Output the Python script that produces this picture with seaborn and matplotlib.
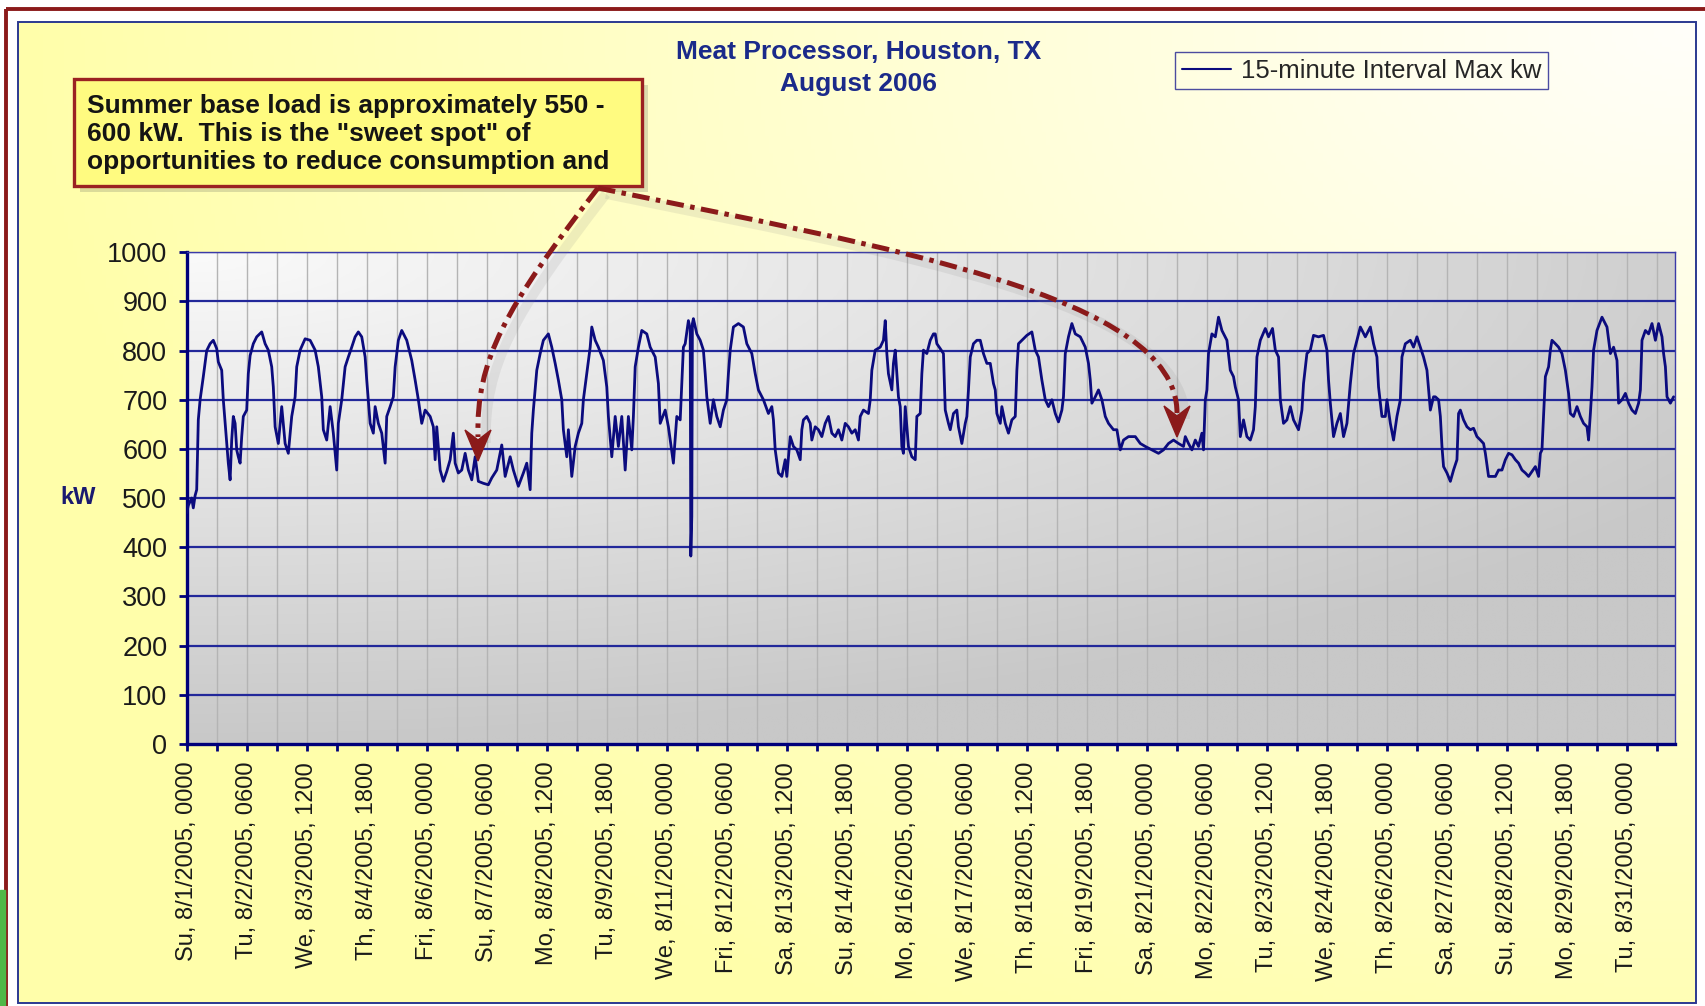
import numpy as np
import matplotlib
matplotlib.use("Agg")
import matplotlib.pyplot as plt
from matplotlib.patches import Rectangle, PathPatch, Polygon
from matplotlib.path import Path
from matplotlib.lines import Line2D
import seaborn as sns

# Canvas size (pixels)
W, H = 1705, 1006

# Text
TITLE = ["Meat Processor, Houston, TX", "August 2006"]
NOTE = ["Summer base load is approximately 550 -",
        "600 kW.  This is the \"sweet spot\" of",
        "opportunities to reduce consumption and"]
SERIES_NAME = "15-minute Interval Max kw"
Y_LABEL = "kW"

# Category labels, one every 30 hours, starting at 8/1 0000
X_LABELS = ["Su, 8/1/2005, 0000", "Tu, 8/2/2005, 0600", "We, 8/3/2005, 1200",
            "Th, 8/4/2005, 1800", "Fri, 8/6/2005, 0000", "Su, 8/7/2005, 0600",
            "Mo, 8/8/2005, 1200", "Tu, 8/9/2005, 1800", "We, 8/11/2005, 0000",
            "Fri, 8/12/2005, 0600", "Sa, 8/13/2005, 1200", "Su, 8/14/2005, 1800",
            "Mo, 8/16/2005, 0000", "We, 8/17/2005, 0600", "Th, 8/18/2005, 1200",
            "Fri, 8/19/2005, 1800", "Sa, 8/21/2005, 0000", "Mo, 8/22/2005, 0600",
            "Tu, 8/23/2005, 1200", "We, 8/24/2005, 1800", "Th, 8/26/2005, 0000",
            "Sa, 8/27/2005, 0600", "Su, 8/28/2005, 1200", "Mo, 8/29/2005, 1800",
            "Tu, 8/31/2005, 0000"]
LABEL_STEP_H = 30
TOTAL_H = 744
Y_TICKS = list(range(0, 1001, 100))

# Load trace: hours since 8/1 0000, kW
HOURS = [0, 0.8, 2.5, 3.3, 4.2, 5, 5.8, 6.7, 8.3, 10, 11.7, 13.3, 15, 15.8, 17.5, 18.3, 20, 20.8,
         21.7, 22.5, 23.3, 24.2, 25, 25.8, 26.7, 27.5, 28.3, 30, 30.8, 31.7, 33.3, 35, 37.5, 39.2,
         40.8, 42.5, 43.3, 44.2, 45.8, 47.5, 49.2, 50.8, 52.5, 54.2, 55, 56.7, 59.2, 61.7, 64.2,
         65.8, 67.5, 68.3, 70, 71.7, 73.3, 75, 75.8, 77.5, 79.2, 80.8, 82.5, 84.2, 85.8, 87.5,
         89.2, 90, 91.7, 93.3, 94.2, 95.8, 97.5, 99.2, 100, 101.7, 103.3, 104.2, 105.8, 107.5,
         110, 112.5, 114.2, 115.8, 117.5, 119.2, 121.7, 123.3, 124.2,
         125, 126.7, 128.3, 130, 131.7, 133.3, 134.2, 135.8, 137.5, 139.2, 140.8, 142.5, 144.2,
         145.8, 148.3, 150.8, 152.5, 155, 157.5, 159.2, 161.7, 163.3, 165.8, 168.3, 170, 171.7,
         172.5, 173.3, 175, 176.7, 178.3, 180.8, 182.5, 184.2, 185.8, 187.5, 188.3, 190, 190.8,
         192.5, 194.2, 195.8, 197.5, 198.3, 200, 201.7, 202.5, 204.2, 205.8, 208.3, 210, 210.8,
         212.5, 214.2, 215.8, 217.5, 219.2, 220.8, 222.5, 223.3, 224.2, 225.8, 227.5, 230, 231.7,
         234.2, 235.8, 236.7, 239.2, 240.8, 243.3, 245, 246.7, 247.5, 248.3, 249.2,
         250.8, 251.7, 252, 252.5, 252.8, 253.3, 255, 256.7, 258.3, 259.2, 260, 261.7, 263.3, 265,
         266.7, 268.3, 270, 270.8, 271.7, 273.3, 275.8, 278.3, 280, 282.5, 284.2, 285.8, 288.3,
         290.8, 292.5, 293.3, 294.2, 295.8, 297.5, 299.2, 300, 301.7, 303.3, 305, 306.7, 307.5,
         308.3, 310, 311.7, 312.5, 314.2, 315.8, 317.5, 319.2, 320.8, 322.5, 324.2, 325.8, 327.5,
         329.2, 330.8, 332.5, 334.2, 335.8, 336.7, 338.3, 340.8, 341.7, 342.5, 344.2, 346.7, 348.3,
         349.2, 350, 350.8, 352.5, 353.3, 354.2, 355.8, 356.7, 357.5, 358.3, 359.2, 360.8, 362.5,
         364.2, 365, 366.7, 367.5, 368.3, 370, 371.7, 373.3,
         374.2, 375, 376.7, 378.3, 379.2, 380.8, 381.7, 383.3, 385, 385.8, 387.5, 389.2, 390, 390.8,
         391.7, 393.3, 395, 396.7, 398.3, 400, 401.7, 403.3, 404.2, 405, 406.7, 407.5, 409.2, 410.8,
         412.5, 414.2, 415, 415.8, 417.5, 420, 422.5, 424.2, 425.8, 427.5, 429.2, 430.8, 432.5,
         434.2, 435.8, 437.5, 438.3, 439.2, 440.8, 442.5, 444.2, 446.7, 449.2, 450.8, 451.7, 452.5,
         454.2, 455.8, 457.5, 459.2, 460.8, 463.3, 465, 466.7, 468.3, 470.8, 474.2, 476.7, 479.2,
         482.5, 485.8, 488.3, 490.8, 493.3, 495.8, 498.3,
         499.2, 500.8, 502.5, 504.2, 505.8, 507.5, 508.3, 509.2, 510, 510.8, 512.5, 514.2, 515.8,
         517.5, 520, 521.7, 523.3, 524.2, 525.8, 526.7, 528.3, 530, 531.7, 533.3, 534.2, 535, 536.7,
         539.2, 540.8, 542.8, 544.2, 545.8, 546.7, 548.3, 550, 551.7, 553.3, 555.8, 557.5, 558.3,
         560, 561.7, 563.3, 565.8, 568.3, 570, 570.8, 571.7, 573.3, 575, 576.7, 578.3, 580, 581.7,
         583.3, 585, 586.7, 589.2, 591.7, 593.3, 595, 595.8, 597.5, 599.2, 600, 601.7, 603.3, 605,
         606.7, 607.5, 609.2, 611.7, 613.3, 615, 616.7, 618.3, 620, 621.7, 623.3,
         624.2, 625.8, 626.7, 627.5, 628.3, 630, 631.7, 633.3, 635, 635.8, 636.7, 638.3, 640, 641.7,
         643.3, 645, 646.7, 648.3, 649.2, 650.8, 652.5, 654.2, 655.8, 657.5, 659.2, 660.8, 662.5,
         664.2, 665.8, 667.5, 669.2, 670.8, 672.5, 674.2, 675.8, 676.7, 677.5, 678.3, 679.2, 680.8,
         681.7, 682.5, 684.2, 685.8, 687.5, 689.2, 690.8, 691.7, 693.3, 695, 696.7, 698.3, 700,
         700.8, 701.7, 702.5, 703.3, 705, 707.5, 710, 711.7, 713.3, 715, 715.8, 717.5, 719.2, 720.8,
         722.5, 724.2, 725.8, 726.7, 727.5, 729.2, 730.8, 732.5, 734.2, 735.8, 737.5, 738.3, 739.2,
         740, 741.7, 743.3]
KW = [470, 485, 500, 480, 505, 517, 659, 700, 747, 800, 814, 821, 804, 777, 760, 700, 611, 571,
      537, 618, 666, 652, 598, 584, 571, 625, 666, 679, 753, 790, 814, 828, 838, 814,
      801, 767, 726, 645, 611, 686, 611, 591, 666, 706, 767, 801, 824, 821, 801,
      767, 706, 639, 618, 686, 632, 557, 652, 700, 767, 787, 807, 828, 838, 828,
      787, 740, 652, 632, 686, 652, 632, 571, 666, 686, 706, 767, 821, 841,
      821, 780, 740, 700, 652, 679, 666, 645, 578,
      645, 557, 534, 554, 578, 632, 571, 551, 557, 591, 557, 537, 584,
      534, 530, 527, 541, 557, 608, 544, 584, 557, 524, 551, 571, 517,
      632, 679, 760, 794, 821, 834, 807, 774, 740, 700, 639, 584, 639,
      544, 605, 632, 652, 700, 753, 807, 848, 821, 807, 780, 726, 666,
      584, 666, 605, 666, 557, 666, 598, 666, 767, 807, 841, 834, 807,
      787, 733, 652, 679, 645, 571, 666, 659, 733, 807, 814,
      861, 845, 382, 463, 855, 865, 834, 821, 801, 753, 706, 652, 700, 666,
      645, 679, 700, 753, 801, 848, 855, 848, 814, 794, 753, 720, 700,
      672, 686, 659, 598, 551, 544, 578, 544, 625, 605, 598, 578, 639,
      659, 666, 652, 618, 645, 639, 625, 652, 666, 632, 625, 639, 618,
      652, 645, 632, 639, 618, 666, 679, 672, 700, 760, 801, 807, 821,
      861, 794, 753, 720, 774, 801, 706, 686, 605, 591, 686, 605, 584,
      578, 666, 672, 753, 801, 794, 821, 834,
      834, 814, 804, 794, 679, 652, 639, 672, 679, 645, 611, 652, 666, 720,
      787, 814, 821, 821, 794, 774, 774, 733, 720, 672, 652, 686, 652, 632,
      659, 666, 760, 814, 821, 831, 838, 801, 787, 740, 700, 686, 700,
      672, 655, 679, 706, 794, 828, 855, 834, 828, 807, 774, 740, 693,
      706, 720, 700, 666, 652, 639, 639, 598, 618, 625, 625, 611, 605,
      598, 591, 598, 611, 618, 611, 605,
      625, 611, 598, 618, 605, 632, 598, 700, 720, 794, 834, 828, 868,
      841, 821, 760, 747, 726, 700, 625, 659, 625, 618, 639, 686, 787, 821,
      845, 828, 845, 801, 787, 700, 652, 659, 686, 659, 639, 679, 733,
      794, 801, 831, 828, 831, 801, 740, 693, 625, 652, 672, 625, 652, 733,
      794, 821, 848, 828, 848, 814, 787, 726, 666, 666, 700, 652, 618, 666,
      700, 787, 814, 821, 807, 828, 807, 787, 760, 679, 706,
      706, 700, 666, 605, 564, 551, 534, 557, 578, 672, 679, 659, 645, 639,
      642, 625, 618, 611, 591, 544, 544, 544, 557, 557, 578, 591, 588,
      578, 571, 557, 551, 544, 554, 564, 544, 591, 598, 666, 747, 767,
      801, 821, 814, 807, 794, 760, 713, 672, 666, 686, 666, 652, 645,
      618, 672, 726, 801, 841, 868, 848, 794, 807, 780, 693, 700, 713, 693,
      679, 672, 693, 720, 821, 841, 834, 855, 821, 855, 828, 794, 767,
      706, 693, 706]

NAVY = "#0B0B7E"
GRID_BLUE = "#22289A"
DARK_RED = "#8B1A1A"
TITLE_BLUE = "#1B2A8A"

sns.set_theme(style="white")
plt.rcParams["font.family"] = ["Liberation Sans", "DejaVu Sans"]

fig = plt.figure(figsize=(W / 100, H / 100), dpi=100)
fig.patch.set_facecolor("white")

# --- page background (yellow gradient) ---
bg = fig.add_axes([0, 0, 1, 1], zorder=-10)
bg.set_axis_off()
bg.set_xlim(0, W)
bg.set_ylim(H, 0)
gx, gy = np.meshgrid(np.linspace(0, 1, 400), np.linspace(0, 1, 240))
d = np.clip(np.sqrt((1 - gx) ** 2 + (gy * 0.85) ** 2), 0, 1)
blue_ch = (250 - 80 * d) / 255
yellow = np.dstack([np.ones_like(d), np.full_like(d, 254 / 255), blue_ch])
bg.imshow(yellow, extent=(18, 1696, 1003, 22), aspect="auto", zorder=0)
bg.add_patch(Rectangle((18, 22), 1678, 981, fill=False, edgecolor="#2B3990", lw=1.4, zorder=2))
bg.plot([6, W], [9, 9], color=DARK_RED, lw=2.8, solid_capstyle="butt", zorder=2)
bg.plot([6, 6], [9, H], color=DARK_RED, lw=2.8, solid_capstyle="butt", zorder=2)
bg.add_patch(Rectangle((0, 890), 4.5, 116, color="#4FB848", zorder=2))

# --- plot area ---
left, right, top, bottom = 186.7, 1675, 252.3, 743.8
ax = fig.add_axes([left / W, 1 - bottom / H, (right - left) / W, (bottom - top) / H], zorder=0)
ax.set_facecolor("none")

u, v = np.meshgrid(np.linspace(0, 1, 300), np.linspace(0, 1, 200))
dist = np.clip(np.sqrt((u * 0.85) ** 2 + v ** 2), 0, 1)
shade = (250 - 50 * dist) / 255
# row 0 (lightest) at the top of the plot area
ax.imshow(np.dstack([shade, shade, shade]), extent=(0, TOTAL_H, 0, 1000), aspect="auto",
          origin="upper", zorder=-2)

ax.set_xlim(0, TOTAL_H)
ax.set_ylim(0, 1000)

major_x = np.arange(0, len(X_LABELS)) * LABEL_STEP_H
minor_x = np.append(major_x[:-1] + LABEL_STEP_H / 2, [735])
ax.set_xticks(major_x)
ax.set_xticklabels(X_LABELS, rotation=90)
ax.set_xticks(minor_x, minor=True)
ax.set_yticks(Y_TICKS)
ax.set_yticklabels([str(t) for t in Y_TICKS])

# vertical gray gridlines at every tick, horizontal navy gridlines
for xv in np.concatenate([major_x[1:], minor_x]):
    ax.axvline(xv, color="#B4B4B4", lw=1.0, zorder=-1)
for yv in Y_TICKS[1:]:
    ax.axhline(yv, color=GRID_BLUE, lw=1.6, zorder=1)

sns.lineplot(x=HOURS, y=KW, ax=ax, color=NAVY, lw=2.0, zorder=3, legend=False)

for side in ["left", "bottom"]:
    ax.spines[side].set_color("#00007A")
    ax.spines[side].set_linewidth(2.4)
for side in ["top", "right"]:
    ax.spines[side].set_color("#3A3AA8")
    ax.spines[side].set_linewidth(1.0)

ax.tick_params(axis="y", direction="out", length=6, width=2, color="#00007A",
               labelsize=19.5, pad=8, labelcolor="#1A1A1A", left=True)
ax.tick_params(axis="x", which="both", direction="out", length=5, width=2, color="#00007A",
               labelsize=17, pad=8, labelcolor="#1A1A1A", bottom=True)

# --- overlay for titles, callout and arrows (drawn above the plot) ---
ov = fig.add_axes([0, 0, 1, 1], zorder=5)
ov.set_axis_off()
ov.set_xlim(0, W)
ov.set_ylim(H, 0)
ov.patch.set_alpha(0)

ov.text(859, 52, TITLE[0], ha="center", va="center", fontsize=19,
        fontweight="bold", color=TITLE_BLUE)
ov.text(859, 84, TITLE[1], ha="center", va="center", fontsize=19,
        fontweight="bold", color=TITLE_BLUE)
ov.text(78, 497, Y_LABEL, ha="center", va="center", fontsize=17,
        fontweight="bold", color="#1A1A70")

handle = Line2D([], [], color=NAVY, lw=1.5)
fig.legend([handle], [SERIES_NAME], loc="center",
           bbox_to_anchor=(1361.5 / W, 1 - 70.5 / H), bbox_transform=fig.transFigure,
           frameon=True, fancybox=False, edgecolor="#1F1F8F", facecolor="none",
           fontsize=18.5, handlelength=1.9, handletextpad=0.4, borderpad=0.25,
           borderaxespad=0)

# callout box
ov.add_patch(Rectangle((80, 85), 568, 107, facecolor="#8A8A70", alpha=0.3, lw=0, zorder=3))
ov.add_patch(Rectangle((74, 79), 568, 107, facecolor="#FFFB80", edgecolor="#9B2222",
                       lw=2.4, zorder=4))
for i, line in enumerate(NOTE):
    ov.text(87, 106 + 28 * i, line, ha="left", va="center", fontsize=19,
            fontweight="bold", color="#141414", zorder=5)

# curved dash-dot arrows
def curved_arrow(p0, p1, p2, tip):
    base = (tip[0], tip[1] - 24)
    verts = [p0, p1, p2, base]
    codes = [Path.MOVETO, Path.CURVE4, Path.CURVE4, Path.CURVE4]
    shadow = [(x + 8, y + 6) for x, y in verts]
    ov.add_patch(PathPatch(Path(shadow, codes), fill=False, edgecolor="#7A7A7A", lw=7,
                           alpha=0.12, zorder=5))
    ov.add_patch(PathPatch(Path(verts, codes), fill=False, edgecolor=DARK_RED, lw=3.6,
                           linestyle=(0, (3.5, 1.3, 0.9, 1.3)), zorder=6))
    ov.add_patch(Polygon([tip, (tip[0] - 13, tip[1] - 31), (tip[0], tip[1] - 21),
                          (tip[0] + 13, tip[1] - 31)], closed=True, color=DARK_RED, zorder=6))

curved_arrow((598, 188), (505, 308), (476, 360), (478, 461))
curved_arrow((598, 188), (890, 248), (1177, 296), (1177, 437))

fig.savefig("out.png", dpi=100)
